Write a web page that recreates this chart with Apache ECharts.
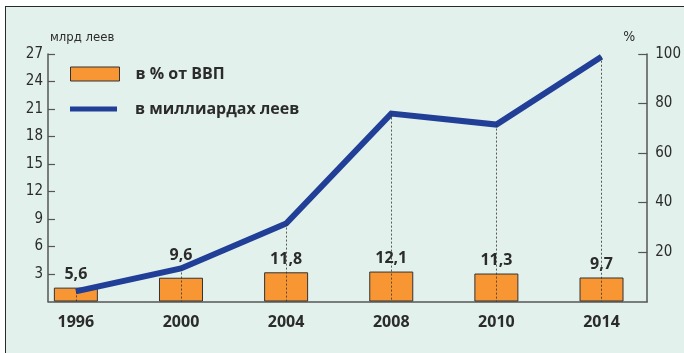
<!DOCTYPE html>
<html>
<head>
<meta charset="utf-8">
<script src="https://cdn.jsdelivr.net/npm/echarts@6/dist/echarts.min.js"></script>
<style>
  html, body { margin: 0; padding: 0; background: #ffffff; }
  #wrap { position: relative; width: 684px; height: 353px; overflow: hidden; }
  #frame {
    position: absolute; left: 5px; top: 6px; width: 720px; height: 400px;
    border-top: 1.6px solid #2a2a2a; border-left: 1.6px solid #2a2a2a;
    background: #e2f1eb;
  }
  #chart { position: absolute; left: 0; top: 0; width: 684px; height: 353px; }
</style>
</head>
<body>
<div id="wrap">
  <div id="frame"></div>
  <div id="chart"></div>
</div>
<script>
// Years shown on the horizontal axis
const years = ['1996', '2000', '2004', '2008', '2010', '2014'];
// Share of GDP, % (bars, right axis)
const shareOfGdp = [5.6, 9.6, 11.8, 12.1, 11.3, 9.7];
// Amount in billions of lei (line, left axis)
const billionsLei = [1.1, 3.6, 8.5, 20.5, 19.3, 26.7];

const leftTicks = { min: 0, max: 27, step: 3 };
const rightTicks = { min: 0, max: 100, step: 20 };

const barName = 'в % от ВВП';
const lineName = 'в миллиардах леев';

const narrow = '"Liberation Sans Narrow", "DejaVu Sans Condensed", sans-serif';
const bold = '"Open Sans", "Noto Sans", sans-serif';
const ink = '#2b2b2b';

const chart = echarts.init(document.getElementById('chart'), null, { renderer: 'canvas' });

const idx = years.map((_, i) => i);

// the 2000 value label sits a little higher so the line does not run through it
const barData = idx.map(i => {
  const item = { value: [i, shareOfGdp[i]] };
  if (i === 1) item.label = { distance: 14 };
  return item;
});

chart.setOption({
  animation: false,
  backgroundColor: 'transparent',
  grid: { left: 48, right: 33, top: 54, bottom: 51.5 },
  legend: [
    {
      data: [barName],
      orient: 'vertical',
      left: 70, top: 66,
      padding: 0,
      icon: 'rect',
      itemWidth: 49, itemHeight: 14,
      itemStyle: { borderColor: '#333', borderWidth: 1 },
      textStyle: { fontFamily: bold, fontWeight: 'bold', fontSize: 16, color: ink, padding: [0, 0, 0, 11] },
      selectedMode: false
    },
    {
      data: [lineName],
      orient: 'vertical',
      left: 70, top: 101,
      padding: 0,
      icon: 'rect',
      itemWidth: 47, itemHeight: 5,
      textStyle: { fontFamily: bold, fontWeight: 'bold', fontSize: 16, color: ink, padding: [0, 0, 0, 13] },
      selectedMode: false
    }
  ],
  xAxis: {
    type: 'value',
    min: -0.265,
    max: 5.435,
    splitLine: { show: false },
    axisLine: { show: true, onZero: false, lineStyle: { color: '#555', width: 1.5 } },
    axisTick: { show: false },
    axisLabel: {
      customValues: idx,
      formatter: v => years[Math.round(v)],
      margin: 13,
      fontFamily: bold, fontWeight: 'bold', fontSize: 16, color: ink
    }
  },
  yAxis: [
    {
      type: 'value',
      position: 'left',
      min: leftTicks.min, max: leftTicks.max, interval: leftTicks.step,
      name: 'млрд леев',
      nameLocation: 'end',
      nameGap: 10,
      nameMoveOverlap: false,
      nameTextStyle: { fontFamily: narrow, fontSize: 13, color: ink, align: 'left', padding: [0, 0, 0, 2] },
      splitLine: { show: false },
      axisLine: { show: true, onZero: false, lineStyle: { color: '#555', width: 1.5 } },
      axisTick: { show: true, inside: true, length: 7, lineStyle: { color: '#555', width: 1.2 } },
      axisLabel: { showMinLabel: false, margin: 5, fontFamily: narrow, fontSize: 15, color: ink }
    },
    {
      type: 'value',
      position: 'right',
      min: rightTicks.min, max: rightTicks.max, interval: rightTicks.step,
      name: '%',
      nameLocation: 'end',
      nameGap: 10,
      nameMoveOverlap: false,
      nameTextStyle: { fontFamily: narrow, fontSize: 14, color: ink, align: 'right', padding: [0, 12, 0, 0] },
      splitLine: { show: false },
      axisLine: { show: true, onZero: false, lineStyle: { color: '#555', width: 1.5 } },
      axisTick: { show: true, inside: true, length: 9, lineStyle: { color: '#555', width: 1.2 } },
      axisLabel: { showMinLabel: false, margin: 8, fontFamily: narrow, fontSize: 15, color: ink }
    }
  ],
  series: [
    {
      name: barName,
      type: 'bar',
      yAxisIndex: 1,
      barWidth: 44,
      data: barData,
      itemStyle: { color: '#f89633', borderColor: '#333', borderWidth: 1 },
      label: {
        show: true,
        position: 'top',
        distance: 5,
        formatter: p => String(p.value[1]).replace('.', ','),
        fontFamily: bold, fontWeight: 'bold', fontSize: 16, color: ink
      },
      z: 2
    },
    {
      name: lineName,
      type: 'line',
      yAxisIndex: 0,
      data: idx.map(i => [i, billionsLei[i]]),
      symbol: 'none',
      lineStyle: { color: '#223f98', width: 6, join: 'miter', cap: 'butt' },
      itemStyle: { color: '#223f98' },
      z: 3,
      markLine: {
        silent: true,
        symbol: ['none', 'none'],
        label: { show: false },
        lineStyle: { color: '#333', width: 0.8, type: [2, 2] },
        emphasis: { disabled: true },
        data: idx.map(i => [{ coord: [i, billionsLei[i]] }, { coord: [i, 0] }])
      }
    }
  ]
});
</script>
</body>
</html>
